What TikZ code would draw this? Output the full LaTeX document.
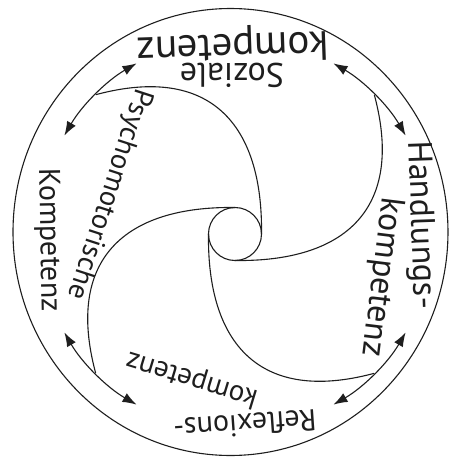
\documentclass[tikz,border=0pt]{standalone}
\usepackage{fontspec}
\setmainfont{PT Sans}
\usetikzlibrary{arrows.meta}
\definecolor{ink}{RGB}{30,30,30}

\begin{document}
\begin{tikzpicture}[x=1pt,y=1pt,
  lbl/.style={inner sep=0pt,text=ink,font=\fontsize{#1}{#1}\selectfont},
  arm/.style={draw=ink,line width=1.1pt},
  dbl/.style={draw=ink,line width=1.1pt,
              {Latex[length=14pt,width=10pt]}-{Latex[length=14pt,width=10pt]}}]
  \useasboundingbox (-235,-225) rectangle (217,234);

  % ---- outer ring and hub ----
  \draw[arm] (-4.5,2) ellipse[x radius=217.5,y radius=223.5];
  \draw[arm] (0,0) circle[radius=26.5];

  % ---- four swirl arms ----
  \foreach \a in {0,90,180,270}
    \draw[arm,rotate=\a] (26.5,0) .. controls (28,110) and (-25,170) .. (135:197);

  % ---- double arrows between the fields ----
  \foreach \a in {45,135,225,315}
    \draw[dbl] (\a-15:197) arc[start angle=\a-15,end angle=\a+15,radius=197];

  % ---- labels ----
  \node[lbl=34,rotate=180] (soz-a) at (-3,159) {Soziale};
  \node[lbl=41,rotate=182] (soz-b) at (-2,189) {kompetenz};
  \node[lbl=34,rotate=-88] (hnd-a) at (185,9) {Handlungs-};
  \node[lbl=34,rotate=-97] (hnd-b) at (146,-43) {kompetenz};
  \node[lbl=30,rotate=184] (ref-a) at (10,-191) {Reflexions-};
  \node[lbl=29,rotate=163] (ref-b) at (-43,-145) {kompetenz};
  \node[lbl=28.5,rotate=-108] (psy-a) at (-126,40) {Psychomotorische};
  \node[lbl=30,rotate=-89] (psy-b) at (-187,-6) {Kompetenz};

\end{tikzpicture}
\end{document}
